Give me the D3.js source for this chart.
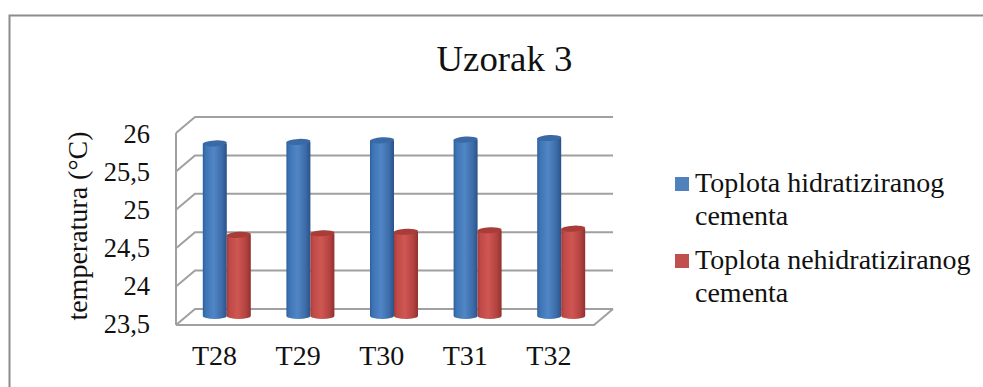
<!DOCTYPE html>
<html><head><meta charset="utf-8">
<script src="https://cdn.jsdelivr.net/npm/d3@7"></script>
<style>html,body{margin:0;padding:0;background:#fff}svg{display:block}text{font-family:"Liberation Serif",serif;fill:#111}</style>
</head><body><svg id="c" width="983" height="387"></svg>
<script>
const categories = ["T28","T29","T30","T31","T32"];
const hidratizirani = [25.76,25.78,25.8,25.81,25.83];
const nehidratizirani = [24.57,24.59,24.61,24.63,24.65];
const seriesNames = ["Toplota hidratiziranog cementa","Toplota nehidratiziranog cementa"];
const ticks = [23.5,24,24.5,25,25.5,26];
const tickLabels = ["23,5","24","24,5","25","25,5","26"];
const title = "Uzorak 3";
const yTitle = "temperatura (°C)";

const svg = d3.select("#c");
const frameColor="#8c8c8c", grid="#a0a0a0";
svg.append("path").attr("d","M9.5,387V15.5H983").attr("fill","none").attr("stroke",frameColor).attr("stroke-width",2);

const dx=19,dy=16;
const x0=176,x1=594;
const yFront=d3.scaleLinear().domain([23.5,26]).range([325,133]);
const yLabel=d3.scaleLinear().domain([23.5,26]).range([333,143]);
const x=d3.scaleBand().domain(categories).range([x0,x1]);
const g=svg.append("g");
const lineAttr=s=>s.attr("fill","none").attr("stroke",grid).attr("stroke-width",2);
ticks.forEach(t=>{
  const y=yFront(t);
  lineAttr(g.append("path")).attr("d",`M${x0},${y}L${x0+dx},${y-dy}L${x1+dx},${y-dy}`);
});
lineAttr(g.append("path")).attr("d",`M${x0},${yFront(26)}L${x0},${yFront(23.5)}`);
lineAttr(g.append("path")).attr("d",`M${x0},${yFront(23.5)}L${x1},${yFront(23.5)}L${x1+dx},${yFront(23.5)-dy}`);

const defs=svg.append("defs");
function grad(id,stops){
  const lg=defs.append("linearGradient").attr("id",id);
  stops.forEach(([o,c])=>lg.append("stop").attr("offset",o).attr("stop-color",c));
}
grad("gb",[[0,"#2f5f9c"],[.12,"#3f74b4"],[.45,"#5186c6"],[.8,"#3c6ca8"],[1,"#2a5288"]]);
grad("gr",[[0,"#a53a38"],[.12,"#bf4a47"],[.45,"#cf5653"],[.8,"#b34340"],[1,"#8f3230"]]);

const yBar=d3.scaleLinear().domain([23.5,26]).range([317,125]);
const rx=12, ry=3;
function cyl(cx,v,fill,cap){
  const top=yBar(v),bot=yBar(23.5)-1;
  const l=cx-rx,r=cx+rx;
  g.append("path").attr("d",`M${l},${top}V${bot}A${rx},${ry} 0 0 0 ${r},${bot}V${top}Z`).attr("fill",`url(#${fill})`);
  g.append("ellipse").attr("cx",cx).attr("cy",top).attr("rx",rx).attr("ry",ry).attr("fill",cap)
    .attr("transform",`rotate(-3 ${cx} ${top})`);
}
categories.forEach((c,i)=>{
  const m=x(c)+x.bandwidth()/2+9.3;
  cyl(m-12.3,hidratizirani[i],"gb","#3a6aa6");
  cyl(m+11.7,nehidratizirani[i],"gr","#a83c39");
});

ticks.forEach((t,i)=>{
  svg.append("text").attr("x",150).attr("y",yLabel(t)).attr("text-anchor","end").attr("font-size",26.5).text(tickLabels[i]);
});
categories.forEach(c=>{
  svg.append("text").attr("x",x(c)+x.bandwidth()/2-3.3).attr("y",365).attr("text-anchor","middle").attr("font-size",28).text(c);
});
svg.append("text").attr("x",504.5).attr("y",71).attr("text-anchor","middle").attr("font-size",36.8).text(title);
svg.append("text").attr("transform","translate(87,226) rotate(-90)").attr("text-anchor","middle").attr("font-size",28).text(yTitle);

const legend=[{c:"#4f81bd",y:177,l:0},{c:"#c0504d",y:254,l:1}];
seriesNames.forEach((n,i)=>{
  const L=legend[i];
  svg.append("rect").attr("x",675).attr("y",L.y).attr("width",14).attr("height",14).attr("fill",L.c);
  const words=n.split(" ");
  const lines=[words.slice(0,2).join(" "),words[2]];
  lines.forEach((t,j)=>svg.append("text").attr("x",695).attr("y",L.y+15+j*33).attr("font-size",28).text(t));
});
</script></body></html>
